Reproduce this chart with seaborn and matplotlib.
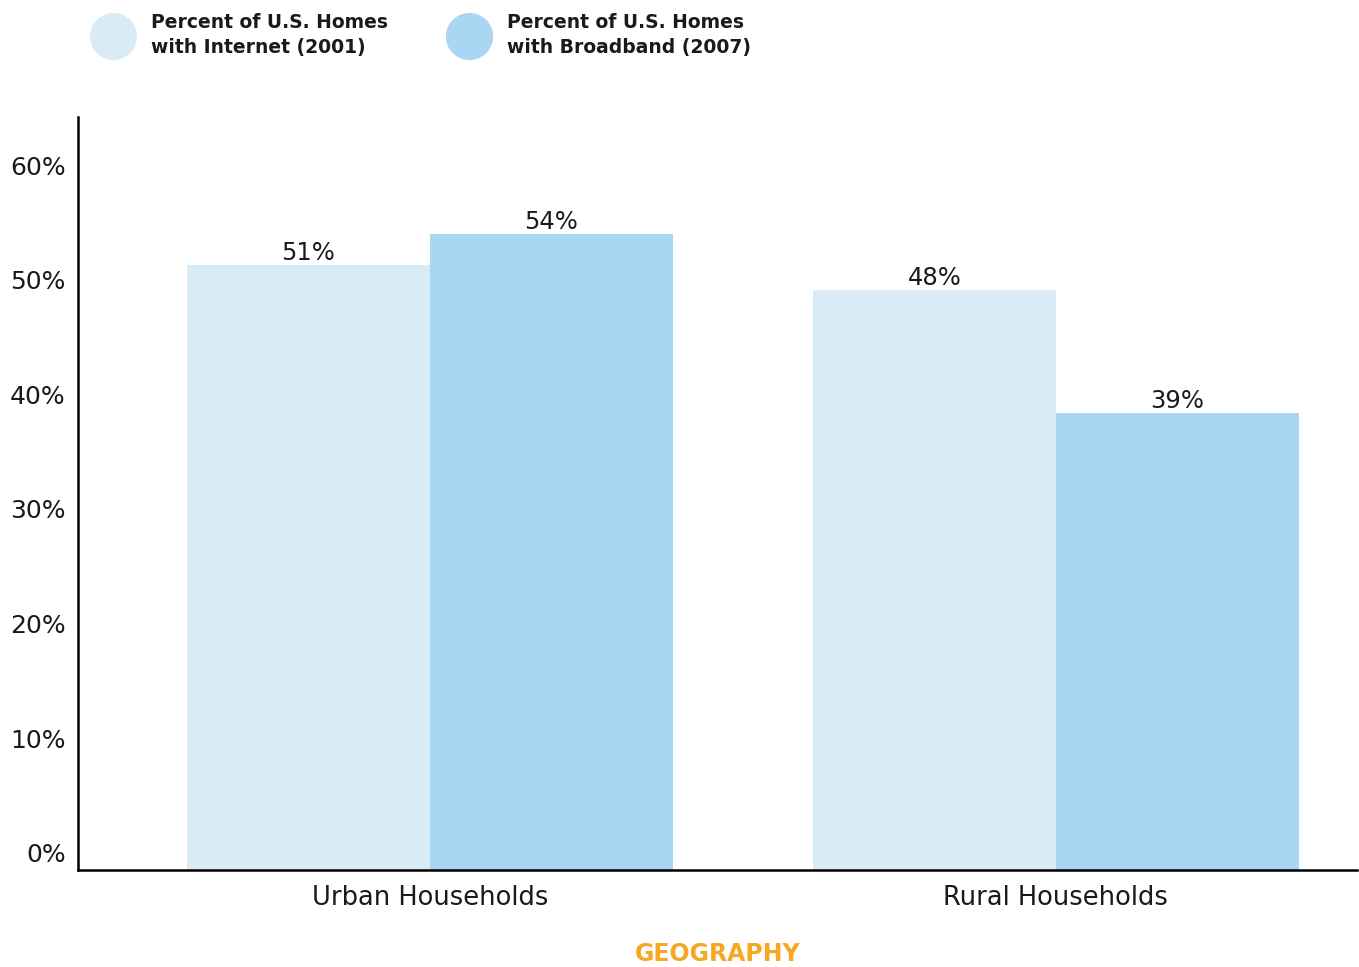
import pandas as pd
import matplotlib
matplotlib.use("Agg")
import matplotlib.pyplot as plt
from matplotlib.lines import Line2D
import seaborn as sns

# data
geography = ["Urban Households", "Rural Households"]
series = ["Percent of U.S. Homes\nwith Internet (2001)",
          "Percent of U.S. Homes\nwith Broadband (2007)"]
internet_2001 = [51.3, 49.1]
broadband_2007 = [54.0, 38.4]
internet_labels = ["51%", "48%"]
broadband_labels = ["54%", "39%"]
yticks = [0, 10, 20, 30, 40, 50, 60]
ytick_labels = ["0%", "10%", "20%", "30%", "40%", "50%", "60%"]

colors = ["#daebf8", "#a8d6f3"]

sns.set_theme(style="white")
plt.rcParams["font.family"] = ["DejaVu Sans"]

df = pd.DataFrame({
    "Geography": geography * 2,
    "Series": [series[0]] * 2 + [series[1]] * 2,
    "Value": internet_2001 + broadband_2007,
})
labels = internet_labels + broadband_labels

fig = plt.figure(figsize=(13.59, 9.67), dpi=100)
ax = fig.add_axes([0.0574, 0.1003, 0.9411, 0.7787])

sns.barplot(data=df, x="Geography", y="Value", hue="Series",
            order=geography, hue_order=series, palette=colors,
            width=0.776, gap=0, saturation=1, linewidth=0,
            legend=False, ax=ax)

ylo, yhi = -1.5, 64.2
ax.set_ylim(ylo, yhi)
ax.set_xlim(-0.562, 1.481)

# bars run down to the axis line; label each bar
for p, lab in zip(ax.patches, labels):
    top = p.get_height()
    p.set_y(ylo)
    p.set_height(top - ylo)
    ax.annotate(lab, (p.get_x() + p.get_width() / 2, top),
                xytext=(0, 0), textcoords="offset points",
                ha="center", va="bottom", fontsize=17.5, color="#1a1a1a")

ax.set_yticks(yticks)
ax.set_yticklabels(ytick_labels)
ax.tick_params(axis="both", length=0, colors="#1a1a1a")
ax.tick_params(axis="y", pad=9, labelsize=18)
ax.tick_params(axis="x", pad=10.5, labelsize=18.5)

ax.set_xlabel("GEOGRAPHY", color="#f7a823", fontsize=17,
              fontweight="bold", labelpad=22.5)
ax.set_ylabel("")

sns.despine(ax=ax)
for s in ["left", "bottom"]:
    ax.spines[s].set_color("black")
    ax.spines[s].set_linewidth(1.8)

handles = [Line2D([], [], marker="o", linestyle="", markersize=34,
                  markerfacecolor=c, markeredgewidth=0) for c in colors]
leg = fig.legend(handles, series, loc="upper left", bbox_to_anchor=(0.06, 1.004),
                 ncol=2, frameon=False, prop={"size": 13.5, "weight": "bold"},
                 handletextpad=1.23, columnspacing=3.5, handlelength=1.6)
for t in leg.get_texts():
    t.set_linespacing(1.4)
    t.set_color("#1a1a1a")

plt.savefig("out.png", dpi=100)
plt.close()
